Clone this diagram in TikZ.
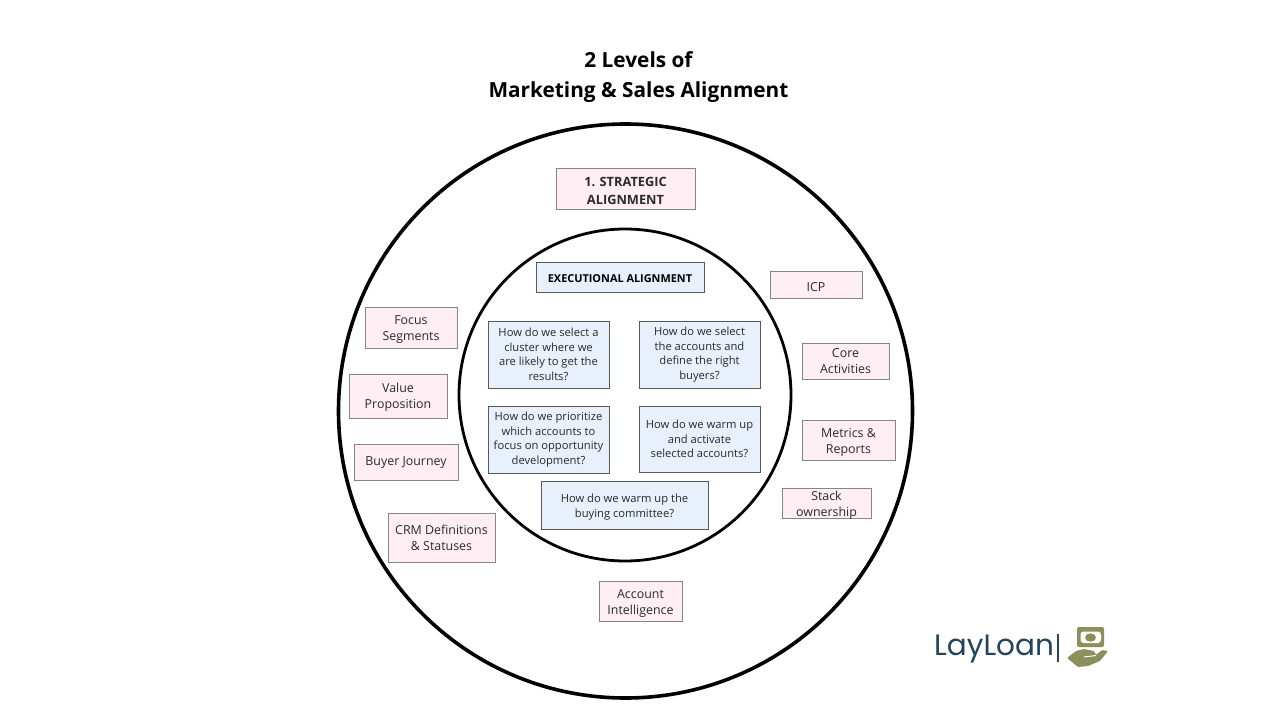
\documentclass[tikz,border=0pt]{standalone}
\usepackage{fontspec}
\setmainfont{Open Sans}
\newfontfamily\logofont{Poppins}
\definecolor{pinkfill}{HTML}{FFEFF4}
\definecolor{bluefill}{HTML}{E8F0FB}
\definecolor{logoblue}{HTML}{24435C}
\definecolor{logoolive}{HTML}{8B8F5A}
\definecolor{inktext}{HTML}{2A2A2A}
\newcommand{\lwr}[1]{\rule{0pt}{\dimexpr 9.3pt+#1\relax}}
\tikzset{
  x=1pt,y=-1pt,
  ring/.style={draw=black,fill=none},
  box/.style={draw=#1,align=center,inner sep=0pt,line width=0.8pt,anchor=center,text=inktext},
  pinkbox/.style={box=black!48,fill=pinkfill,font=\fontsize{12.4pt}{16pt}\selectfont},
  qbox/.style={box=black!65,fill=bluefill,font=\fontsize{11.2pt}{14.5pt}\selectfont},
  headbox/.style={box=black!65,font=\fontsize{10.9pt}{15pt}\selectfont\bfseries,text=black},
  titletext/.style={align=center,inner sep=0pt,font=\fontsize{20.8pt}{30pt}\selectfont\bfseries,text=black},
}
\begin{document}
\begin{tikzpicture}
\useasboundingbox (0,0) rectangle (1280,720);
\fill[white] (0,0) rectangle (1280,720);
\node[titletext] (title) at (638.5,77.5) {2 Levels of\\Marketing \& Sales Alignment};
\draw[ring,line width=3.6pt] (625.5,411) circle[radius=287];
\draw[ring,line width=2.8pt] (625,395) circle[radius=166];
% strategic
\node[headbox,box=black!48,fill=pinkfill,minimum width=139pt,minimum height=41pt,font=\fontsize{12.8pt}{18pt}\selectfont\bfseries] (strategic) at (625.5,188.5) {\lwr{4pt}1. STRATEGIC\\ALIGNMENT};
\node[headbox,fill=bluefill,minimum width=168pt,minimum height=30pt] (exec) at (620,277) {\lwr{1pt}EXECUTIONAL ALIGNMENT};
% questions
\node[qbox,minimum width=121pt,minimum height=67pt] (q1) at (548.5,354.5) {How do we select a\\cluster where we\\are likely to get the\\results?};
\node[qbox,minimum width=121pt,minimum height=67pt] (q2) at (699.5,354.5) {How do we select\\the accounts and\\define the right\\buyers?};
\node[qbox,minimum width=121pt,minimum height=67pt] (q3) at (548.5,439.5) {How do we prioritize\\which accounts to\\focus on opportunity\\development?};
\node[qbox,minimum width=121pt,minimum height=66pt] (q4) at (699.5,439) {How do we warm up\\and activate\\selected accounts?};
\node[qbox,minimum width=167pt,minimum height=48pt] (q5) at (624.5,505) {\lwr{3pt}How do we warm up the\\buying committee?};
% right
\node[pinkbox,minimum width=92pt,minimum height=27pt] (icp) at (816,284.5) {\lwr{4pt}ICP};
\node[pinkbox,minimum width=87pt,minimum height=36pt] (core) at (845.5,361) {Core\\Activities};
\node[pinkbox,minimum width=93pt,minimum height=40pt] (metrics) at (848.5,440) {\lwr{4pt}Metrics \&\\Reports};
\node[pinkbox,inner ysep=-3pt,minimum width=89pt,minimum height=30pt] (stack) at (826.5,503) {\lwr{4pt}Stack\\ownership};
% left
\node[pinkbox,minimum width=92pt,minimum height=41pt] (focus) at (411,327.5) {\lwr{4pt}Focus\\Segments};
\node[pinkbox,minimum width=98pt,minimum height=44pt] (value) at (398,396) {\lwr{2pt}Value\\Proposition};
\node[pinkbox,minimum width=104pt,minimum height=36pt] (buyer) at (406,462) {\lwr{1pt}Buyer Journey};
\node[pinkbox,minimum width=107pt,minimum height=49pt] (crm) at (441.5,537.5) {CRM Definitions\\\& Statuses};
\node[pinkbox,minimum width=83pt,minimum height=40pt] (account) at (640.5,601) {\lwr{4pt}Account\\Intelligence};
% logo
\node[anchor=base west,inner sep=0pt,text=logoblue,font=\fontsize{29.5pt}{30pt}\selectfont\logofont] (logo) at (934,655) {LayLoan};
\fill[logoblue] (1056.5,634) rectangle (1059,662);
\fill[logoolive,rounded corners=2pt] (1077,627) rectangle (1104,647);
\fill[white,rounded corners=3pt] (1080.5,631.5) rectangle (1101,643);
\fill[logoolive] (1090.5,637.5) ellipse[x radius=5.5,y radius=4.2];
\fill[logoolive,rounded corners=1pt] (1067,658) -- (1076,651) -- (1084,649) -- (1094,651) -- (1096,655) -- (1102,650) -- (1108,651) -- (1100,661) -- (1088,666) -- (1078,667) -- cycle;
\draw[white,line width=1pt] (1084,657) -- (1096,655.5);
\end{tikzpicture}
\end{document}
